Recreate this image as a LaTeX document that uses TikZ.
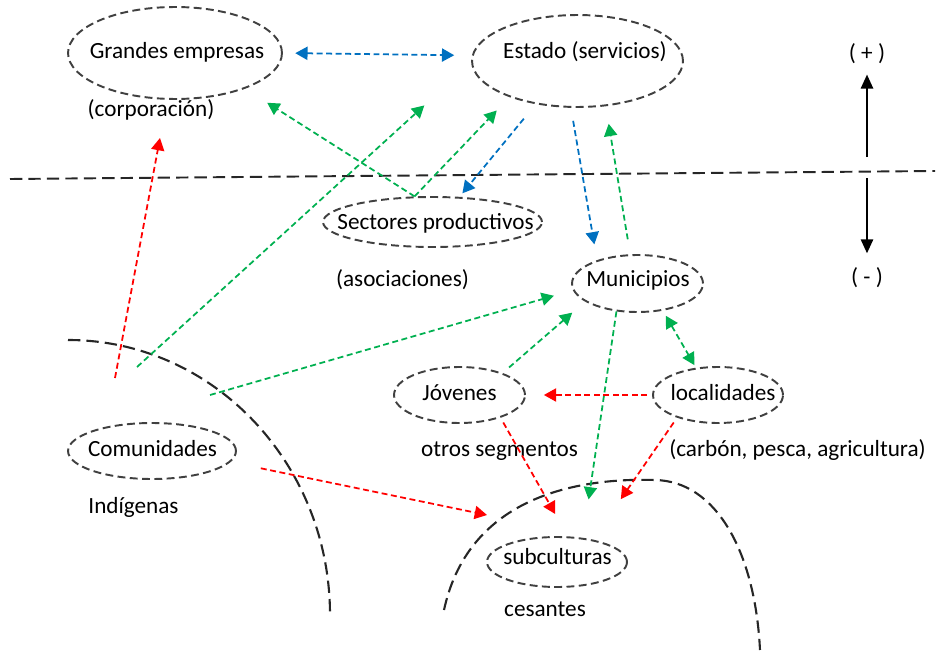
\documentclass[tikz,border=0pt]{standalone}
\usepackage{fontspec}
\setmainfont{Carlito}
\usetikzlibrary{shapes.geometric,arrows.meta}
\definecolor{linkblue}{RGB}{0,112,192}
\definecolor{linkgreen}{RGB}{0,176,80}
\definecolor{linkred}{RGB}{255,0,0}

\begin{document}
\begin{tikzpicture}[x=0.02cm,y=-0.02cm,
  >={Triangle[length=7pt,width=7.5pt]},
  oval/.style={ellipse,draw=black!75,line width=1.1pt,dash pattern=on 4.5pt off 2.5pt,inner sep=0pt},
  txt/.style={anchor=base,inner sep=0pt,font=\fontsize{13.2}{16}\selectfont},
  link/.style={line width=1pt,dash pattern=on 3.4pt off 2pt,->},
  border/.style={line width=1.2pt,dash pattern=on 7pt off 3.5pt,black!85},
  axis/.style={line width=1.1pt,-{Triangle[length=8pt,width=7pt]}}]
\useasboundingbox (0,0) rectangle (940,652);

\node [oval,minimum width=4.28cm,minimum height=1.84cm] (grandes) at (175,53) {};
\node [oval,minimum width=4.22cm,minimum height=1.84cm] (estado) at (577.5,61) {};
\node [oval,minimum width=4.38cm,minimum height=1cm] (sect) at (432.5,222) {};
\node [oval,minimum width=2.62cm,minimum height=1.14cm] (muni) at (637.5,283.5) {};
\node [oval,minimum width=2.62cm,minimum height=1.12cm] (jov) at (459.5,395) {};
\node [oval,minimum width=2.6cm,minimum height=1.12cm] (loc) at (718,395) {};
\node [oval,minimum width=3.36cm,minimum height=1.12cm] (comun) at (152,451) {};
\node [oval,minimum width=2.8cm,minimum height=1cm] (sub) at (557,562) {};

\node [txt] (grandes-t) at (177,59) {Grandes empresas};
\node [txt] (corp) at (151,116) {(corporación)};
\node [txt] (estado-t) at (585,59) {Estado (servicios)};
\node [txt] (sect-t) at (435.5,229) {Sectores productivos};
\node [txt] (asoc) at (402.5,286) {(asociaciones)};
\node [txt] (muni-t) at (638,286) {Municipios};
\node [txt] (jov-t) at (459.5,400) {Jóvenes};
\node [txt] (loc-t) at (723,400) {localidades};
\node [txt] (otros) at (499.5,456) {otros segmentos};
\node [txt] (carbon) at (797.5,456) {(carbón, pesca, agricultura)};
\node [txt] (comun-t) at (152.5,456) {Comunidades};
\node [txt] (indig) at (133.5,513) {Indígenas};
\node [txt] (sub-t) at (557.5,564) {subculturas};
\node [txt] (ces) at (545,616) {cesantes};
\node [txt] (plus) at (867,61) {( + )};
\node [txt] (minus) at (867,284) {( - )};

\coordinate (cutw) at (10,179);
\coordinate (cute) at (935,171);
\draw [border,line width=1.1pt] (cutw) -- (cute);
\draw [border] (68,340) .. controls (212.7,340) and (330,463.2) .. (330,615);
\draw [border] (444,610) .. controls (470,490) and (590,478) .. (655,480)
  .. controls (715,481) and (755,550) .. (760,650);

\coordinate (up) at (867,157);
\coordinate (down) at (867,178);
\draw [axis,shorten >=5.7pt] (up) -- (plus.south);
\draw [axis,shorten >=7.6pt] (down) -- (minus.north);

\draw [link,<->,linkblue,shorten <=7pt,shorten >=10pt] (grandes.east) -- (estado.177);
\draw [link,linkblue,shorten <=10.7pt,shorten >=2.6pt] (estado.226) -- (sect.43);
\draw [link,linkblue,shorten <=7.5pt,shorten >=9.1pt] (estado.262) -- (muni.150);

\coordinate (g3s) at (137,367);
\coordinate (g4s) at (210,395);
\draw [link,linkgreen,shorten >=14.9pt] (sect.125) -- (grandes.333);
\draw [link,linkgreen,shorten >=10.5pt] (sect.125) -- (estado.208);
\draw [link,linkgreen,shorten >=36pt] (g3s) -- (estado.181);
\draw [link,linkgreen,shorten >=11.2pt] (g4s) -- (muni.186);
\draw [link,linkgreen,shorten <=4.8pt,shorten >=9.6pt] (jov.27) -- (muni.199);
\draw [link,linkgreen,shorten <=8.6pt,shorten >=10.1pt] (muni.104) -- (estado.302);
\draw [link,linkgreen,shorten >=22.1pt] (muni.233) -- (sub.43);
\draw [link,<->,linkgreen,shorten <=3.3pt,shorten >=1.7pt] (muni.313) -- (loc.129);

\coordinate (r1s) at (115,378);
\coordinate (r1e) at (160,138);
\coordinate (r3e) at (487,515);
\draw [link,linkred] (r1s) -- (r1e);
\draw [link,linkred,shorten <=2.8pt,shorten >=10.2pt] (loc.west) -- (jov.east);
\draw [link,linkred,shorten <=17.6pt] (comun.352) -- (r3e);
\draw [link,linkred,shorten <=3.1pt,shorten >=14.6pt] (jov.331) -- (sub.67);
\draw [link,linkred,shorten <=3.3pt,shorten >=28pt] (loc.209) -- (sub.32);
\end{tikzpicture}
\end{document}
